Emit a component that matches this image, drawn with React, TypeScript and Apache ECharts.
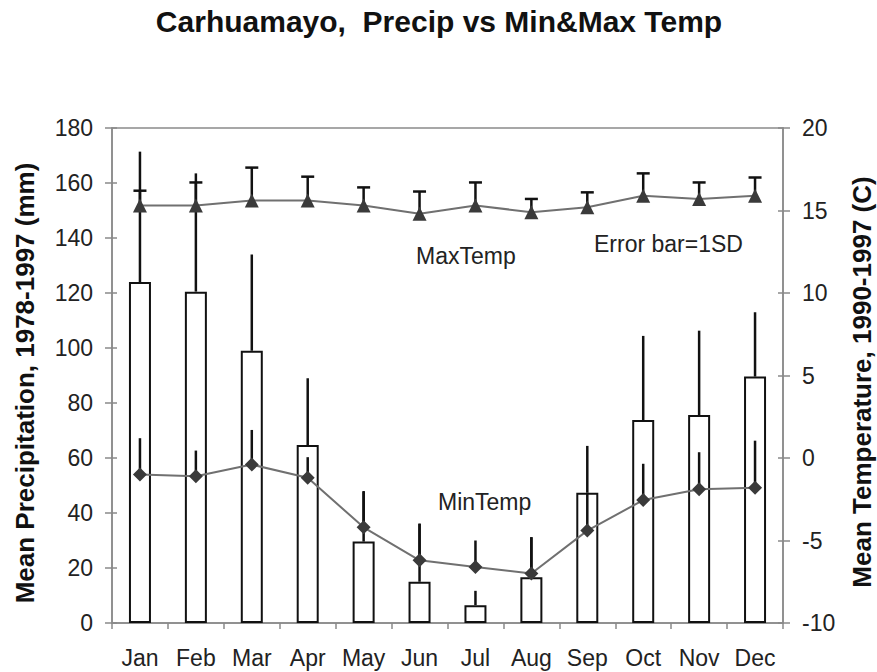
import React, { useEffect, useRef } from "react";
import * as echarts from "echarts";

const months = ["Jan", "Feb", "Mar", "Apr", "May", "Jun", "Jul", "Aug", "Sep", "Oct", "Nov", "Dec"];
const precipMean = [124, 120.5, 99, 64.7, 29.6, 15, 6.5, 16.6, 47.4, 73.8, 75.6, 89.6];
const precipSD = [47.4, 43, 35, 24.3, 18.1, 21.2, 5.2, 14.6, 17, 30.6, 30.7, 23.4];
const maxTempMean = [15.3, 15.3, 15.6, 15.6, 15.3, 14.8, 15.3, 14.9, 15.2, 15.9, 15.7, 15.9];
const maxTempSD = [0.9, 1.4, 2.0, 1.45, 1.1, 1.35, 1.4, 0.8, 0.9, 1.35, 1.0, 1.1];
const minTempMean = [-1.0, -1.1, -0.4, -1.2, -4.2, -6.2, -6.6, -7.0, -4.4, -2.55, -1.9, -1.8];
const minTempSD = [2.2, 1.55, 2.1, 1.25, 2.2, 2.2, 1.6, 2.2, 2.3, 2.2, 2.25, 2.85];

const leftTicks = { min: 0, max: 180, interval: 20 };
const rightTicks = { min: -10, max: 20, interval: 5 };

const FONT = "'Liberation Sans', Arial, Helvetica, sans-serif";
const AXIS_GRAY = "#8a8a8a";
const INK = "#111";

function errorData(mean: number[], sd: number[]) {
  return mean.map((m, i) => [i, m, m + sd[i]]);
}

function makeErrorRender(cap: number) {
  return (params: any, api: any) => {
    const x = api.value(0);
    const p1 = api.coord([x, api.value(1)]);
    const p2 = api.coord([x, api.value(2)]);
    const style = { stroke: INK, lineWidth: 2.5 };
    const children: any[] = [
      { type: "line", shape: { x1: p1[0], y1: p1[1], x2: p2[0], y2: p2[1] }, style },
    ];
    if (cap > 0) {
      children.push({
        type: "line",
        shape: { x1: p2[0] - cap / 2, y1: p2[1], x2: p2[0] + cap / 2, y2: p2[1] },
        style,
      });
    }
    return { type: "group", children };
  };
}

export default function App() {
  const ref = useRef<HTMLDivElement>(null);

  useEffect(() => {
    if (!ref.current) return;
    const chart = echarts.init(ref.current, undefined, { renderer: "svg" });

    const baseY = (t: any, pos: string, showLabel: boolean, inside: boolean) => ({
      type: "value",
      position: pos,
      min: t.min,
      max: t.max,
      interval: t.interval,
      splitLine: { show: false },
      axisLine: { show: !inside, lineStyle: { color: AXIS_GRAY, width: 1.5 } },
      axisTick: { show: true, inside, length: inside ? 5 : 7, lineStyle: { color: AXIS_GRAY, width: 1.5 } },
      axisLabel: {
        show: showLabel,
        fontSize: 23,
        fontFamily: FONT,
        color: "#222",
        margin: 19,
      },
    });

    chart.setOption({
      animation: false,
      backgroundColor: "#fff",
      grid: {
        left: 112,
        right: 94,
        top: 128,
        bottom: 49,
        show: true,
        borderColor: AXIS_GRAY,
        borderWidth: 1.5,
        backgroundColor: "transparent",
      },
      xAxis: {
        type: "category",
        data: months,
        axisLine: { lineStyle: { color: AXIS_GRAY, width: 1.5 } },
        axisTick: { show: true, length: 6, alignWithLabel: false, interval: 0, lineStyle: { color: AXIS_GRAY, width: 1.5 } },
        axisLabel: { fontSize: 23, fontFamily: FONT, color: "#222", margin: 23, interval: 0, hideOverlap: false },
      },
      yAxis: [
        baseY(leftTicks, "left", true, false),
        baseY(rightTicks, "right", true, false),
        baseY(leftTicks, "left", false, true),
        baseY(rightTicks, "right", false, true),
      ],
      series: [
        {
          name: "Precip",
          type: "bar",
          data: precipMean,
          yAxisIndex: 0,
          barWidth: 22,
          itemStyle: { color: "#fff", borderColor: INK, borderWidth: 2 },
          z: 1,
        },
        {
          name: "PrecipErr",
          type: "custom",
          yAxisIndex: 0,
          data: errorData(precipMean, precipSD),
          encode: { x: 0, y: [1, 2] },
          renderItem: makeErrorRender(0),
          z: 2,
        },
        {
          name: "MaxTempErr",
          type: "custom",
          yAxisIndex: 1,
          data: errorData(maxTempMean, maxTempSD),
          encode: { x: 0, y: [1, 2] },
          renderItem: makeErrorRender(13),
          z: 2,
        },
        {
          name: "MinTempErr",
          type: "custom",
          yAxisIndex: 1,
          data: errorData(minTempMean, minTempSD),
          encode: { x: 0, y: [1, 2] },
          renderItem: makeErrorRender(0),
          z: 2,
        },
        {
          name: "MaxTemp",
          type: "line",
          yAxisIndex: 1,
          data: maxTempMean,
          symbol: "triangle",
          symbolSize: 14,
          lineStyle: { color: "#707070", width: 2 },
          itemStyle: { color: "#3a3a3a", borderWidth: 0 },
          z: 3,
        },
        {
          name: "MinTemp",
          type: "line",
          yAxisIndex: 1,
          data: minTempMean,
          symbol: "diamond",
          symbolSize: 14,
          lineStyle: { color: "#707070", width: 2 },
          itemStyle: { color: "#3a3a3a", borderWidth: 0 },
          z: 3,
        },
      ],
      graphic: [
        {
          type: "text",
          x: 439,
          y: 21,
          style: {
            text: "Carhuamayo,  Precip vs Min&Max Temp",
            font: `bold 30px ${FONT}`,
            fill: "#111",
            textAlign: "center",
            textVerticalAlign: "middle",
          },
        },
        {
          type: "text",
          x: 25,
          y: 383,
          rotation: Math.PI / 2,
          style: {
            text: "Mean Precipitation, 1978-1997 (mm)",
            font: `bold 26px ${FONT}`,
            fill: "#111",
            textAlign: "center",
            textVerticalAlign: "middle",
          },
        },
        {
          type: "text",
          x: 862,
          y: 382,
          rotation: Math.PI / 2,
          style: {
            text: "Mean Temperature, 1990-1997 (C)",
            font: `bold 26px ${FONT}`,
            fill: "#111",
            textAlign: "center",
            textVerticalAlign: "middle",
          },
        },
        {
          type: "text",
          x: 416,
          y: 256,
          style: { text: "MaxTemp", font: `23px ${FONT}`, fill: "#222", textAlign: "left", textVerticalAlign: "middle" },
        },
        {
          type: "text",
          x: 594,
          y: 244,
          style: { text: "Error bar=1SD", font: `23px ${FONT}`, fill: "#222", textAlign: "left", textVerticalAlign: "middle" },
        },
        {
          type: "text",
          x: 438,
          y: 502,
          style: { text: "MinTemp", font: `23px ${FONT}`, fill: "#222", textAlign: "left", textVerticalAlign: "middle" },
        },
      ],
    });

    return () => chart.dispose();
  }, []);

  return (
    <div
      ref={ref}
      style={{ position: "fixed", left: 0, top: 0, width: 877, height: 672, background: "#fff" }}
    />
  );
}
